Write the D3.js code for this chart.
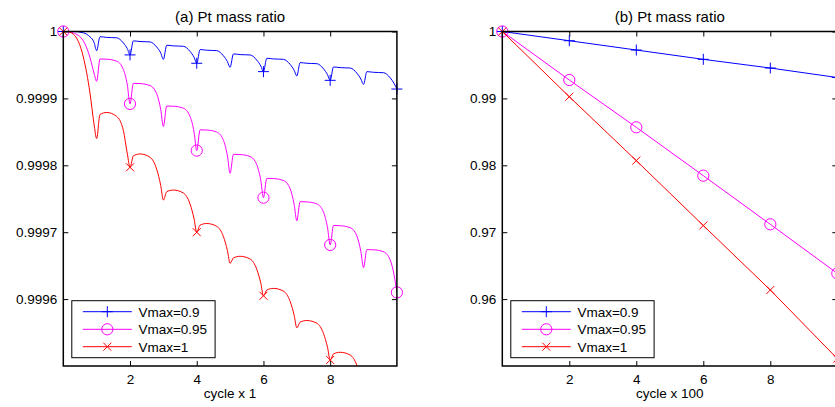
<!DOCTYPE html>
<html><head><meta charset="utf-8">
<script src="https://cdn.jsdelivr.net/npm/d3@7"></script>
<style>body{margin:0;background:#fff;} svg{display:block;font-family:"Liberation Sans",Arial,sans-serif;}</style>
</head><body><svg id="c" width="835" height="407"></svg>
<script>
// ---- data (panel a: cycle x 1) ----
const cycleX = [
  0,0.1,0.3,0.6,0.8,0.92,
  1,1.1,1.3,1.6,1.8,1.92,
  2,2.1,2.3,2.6,2.8,2.92,
  3,3.1,3.3,3.6,3.8,3.92,
  4,4.1,4.3,4.6,4.8,4.92,
  5,5.1,5.3,5.6,5.8,5.92,
  6,6.1,6.3,6.6,6.8,6.92,
  7,7.1,7.3,7.6,7.8,7.92,
  8,8.1,8.3,8.6,8.8,8.92,
  9,9.1,9.3,9.6,9.8,9.92,
  10];
const blueShort = [
  1,1,1,0.999998,0.999992,0.999984,
  0.9999713,0.9999922,0.9999912,0.9999906,0.9999829,0.9999742,
  0.999965,0.999986,0.999985,0.9999844,0.9999767,0.999968,
  0.9999584,0.9999795,0.9999785,0.9999779,0.9999702,0.9999615,
  0.9999525,0.999973,0.999972,0.9999714,0.9999637,0.999955,
  0.9999464,0.9999665,0.9999655,0.9999649,0.9999572,0.9999485,
  0.99994,0.99996,0.999959,0.9999584,0.9999507,0.999942,
  0.9999335,0.9999535,0.9999525,0.9999519,0.9999442,0.9999355,
  0.999927,0.999947,0.999946,0.9999454,0.9999377,0.999929,
  0.999921,0.99994,0.999939,0.9999384,0.9999307,0.999922,
  0.999914];
const magentaShort = [
  1,1,0.999998,0.999986,0.999961,0.999938,
  0.9999255,0.9999589,0.9999586,0.9999556,0.9999433,0.9999199,
  0.9998918,0.9999225,0.9999222,0.9999192,0.9999069,0.9998835,
  0.999858,0.9998886,0.9998883,0.9998853,0.999873,0.9998496,
  0.999822,0.999853,0.9998527,0.9998497,0.9998374,0.999814,
  0.999788,0.9998164,0.9998161,0.9998131,0.9998008,0.9997774,
  0.9997516,0.9997805,0.9997802,0.9997772,0.9997649,0.9997415,
  0.999717,0.9997456,0.9997453,0.9997423,0.99973,0.9997066,
  0.999681,0.99971,0.9997097,0.9997067,0.9996944,0.999671,
  0.999647,0.999674,0.9996737,0.9996707,0.9996584,0.999635,
  0.99961];
const redShort = [
  1,1,0.999996,0.999962,0.999908,0.999862,
  0.99984,0.999876,0.999879,0.999873,0.999852,0.999817,
  0.999797,0.999814,0.999817,0.999812,0.999794,0.99977,
  0.999748,0.9997605,0.999763,0.9997586,0.999742,0.99972,
  0.9997,0.9997106,0.999713,0.9997088,0.9996934,0.9996725,
  0.9996535,0.9996616,0.999664,0.9996599,0.9996445,0.999624,
  0.999605,0.9996136,0.999616,0.9996119,0.9995965,0.999576,
  0.999557,0.9995656,0.999568,0.9995639,0.9995485,0.999528,
  0.999509,0.9995181,0.9995205,0.9995164,0.999501,0.9994805,
  0.999461,0.9994696,0.999472,0.9994679,0.9994525,0.999432,
  0.999413];
// ---- data (panel b: cycle x 100) ----
const longX = [0,2,4,6,8,10];
const blueLong = [1,0.99862,0.99723,0.99584,0.99454,0.99312];
const magentaLong = [1,0.99275,0.98568,0.97845,0.97118,0.96385];
const redLong = [1,0.99025,0.9807,0.971,0.96136,0.9511];

const seriesNames = ["Vmax=0.9","Vmax=0.95","Vmax=1"];
const seriesColors = ["#0000ff","#ff00ff","#ff0000"];
const markerTypes = ["plus","circle","cross"];
const markerX = [0,2,4,6,8,10];

const xTicks = [2,4,6,8];
const leftYTicks = [0.9996,0.9997,0.9998,0.9999,1];
const leftYLabels = ["0.9996","0.9997","0.9998","0.9999","1"];
const rightYTicks = [0.96,0.97,0.98,0.99,1];
const rightYLabels = ["0.96","0.97","0.98","0.99","1"];
const titles = ["(a) Pt mass ratio","(b) Pt mass ratio"];
const xLabels = ["cycle x 1","cycle x 100"];

const svg = d3.select("#c");
const TOP = 31.5, BOT = 366;

function markerPath(type){
  if(type==="plus") return "M-5.5,0H5.5M0,-5.5V5.5";
  if(type==="cross") return "M-4,-4L4,4M-4,4L4,-4";
  return d3.arc()({innerRadius:0,outerRadius:5.6,startAngle:0,endAngle:2*Math.PI});
}

function panel(idx, left, right, xs, ysList, yDomain, yTicks, yLabels, curve){
  const x = d3.scaleLinear().domain([0,10]).range([left,right]);
  const y = d3.scaleLinear().domain(yDomain).range([BOT,TOP]);
  const g = svg.append("g");
  const clipId = "clip"+idx;
  svg.append("clipPath").attr("id",clipId).append("rect")
    .attr("x",left).attr("y",TOP).attr("width",right-left).attr("height",BOT-TOP);

  // axes with inward ticks
  const fmt = (d)=> yLabels[yTicks.indexOf(d)];
  const ax = g.append("g").attr("transform",`translate(0,${BOT})`)
    .call(d3.axisBottom(x).tickValues(xTicks).tickSizeInner(-5).tickSizeOuter(0).tickPadding(8.5));
  g.append("g").attr("transform",`translate(0,${TOP})`)
    .call(d3.axisTop(x).tickValues(xTicks).tickSizeInner(-5).tickSizeOuter(0).tickFormat(""));
  const ay = g.append("g").attr("transform",`translate(${left},0)`)
    .call(d3.axisLeft(y).tickValues(yTicks).tickSizeInner(-5).tickSizeOuter(0).tickPadding(6).tickFormat(fmt));
  g.append("g").attr("transform",`translate(${right},0)`)
    .call(d3.axisRight(y).tickValues(yTicks).tickSizeInner(-5).tickSizeOuter(0).tickFormat(""));
  g.selectAll(".domain").remove();
  g.selectAll(".tick line").attr("stroke","#000").attr("stroke-width",1);
  g.selectAll(".tick text").attr("font-size",13.5).attr("fill","#000")
    .attr("font-family","'Liberation Sans',Arial,sans-serif");

  // lines
  const line = d3.line().x((d)=>x(d[0])).y((d)=>y(d[1])).curve(curve);
  ysList.forEach((ys,si)=>{
    const pts = xs.map((v,i)=>[v,ys[i]]);
    g.append("path").attr("d",line(pts)).attr("fill","none")
      .attr("stroke",seriesColors[si]).attr("stroke-width",1)
      .attr("clip-path",`url(#${clipId})`);
  });
  // markers
  ysList.forEach((ys,si)=>{
    const pts = xs.map((v,i)=>[v,ys[i]]).filter(p=>markerX.includes(p[0]) && p[1]>=yDomain[0]);
    g.selectAll(null).data(pts).enter().append("path")
      .attr("transform",(p)=>`translate(${x(p[0])},${y(p[1])})`)
      .attr("d",markerPath(markerTypes[si]))
      .attr("fill","none").attr("stroke",seriesColors[si]).attr("stroke-width",1);
  });

  // box
  g.append("rect").attr("x",left).attr("y",TOP).attr("width",right-left).attr("height",BOT-TOP)
    .attr("fill","none").attr("stroke","#000").attr("stroke-width",1.5);

  // title & xlabel
  g.append("text").attr("x",(left+right)/2).attr("y",22).attr("text-anchor","middle")
    .attr("font-size",15).text(titles[idx]);
  g.append("text").attr("x",(left+right)/2).attr("y",398).attr("text-anchor","middle")
    .attr("font-size",13.5).text(xLabels[idx]);

  // legend
  const lx = left+8.5, ly = 300.7, lw = 143.3, lh = 57;
  const lg = g.append("g");
  lg.append("rect").attr("x",lx).attr("y",ly).attr("width",lw).attr("height",lh)
    .attr("fill","#fff").attr("stroke","#000").attr("stroke-width",1);
  const rows = [311.7,329.3,346.7];
  seriesNames.forEach((name,si)=>{
    const ry = rows[si];
    lg.append("line").attr("x1",lx+11).attr("x2",lx+60).attr("y1",ry).attr("y2",ry)
      .attr("stroke",seriesColors[si]).attr("stroke-width",1);
    lg.append("path").attr("transform",`translate(${lx+35.5},${ry})`).attr("d",markerPath(markerTypes[si]))
      .attr("fill","none").attr("stroke",seriesColors[si]).attr("stroke-width",1);
    lg.append("text").attr("x",lx+66.6).attr("y",ry+4.8).attr("font-size",13.5).text(name);
  });
}

panel(0, 63.3, 396.9, cycleX, [blueShort,magentaShort,redShort], [0.9995,1], leftYTicks, leftYLabels, d3.curveMonotoneX);
panel(1, 502.3, 837.3, longX, [blueLong,magentaLong,redLong], [0.95,1], rightYTicks, rightYLabels, d3.curveLinear);
</script></body></html>
